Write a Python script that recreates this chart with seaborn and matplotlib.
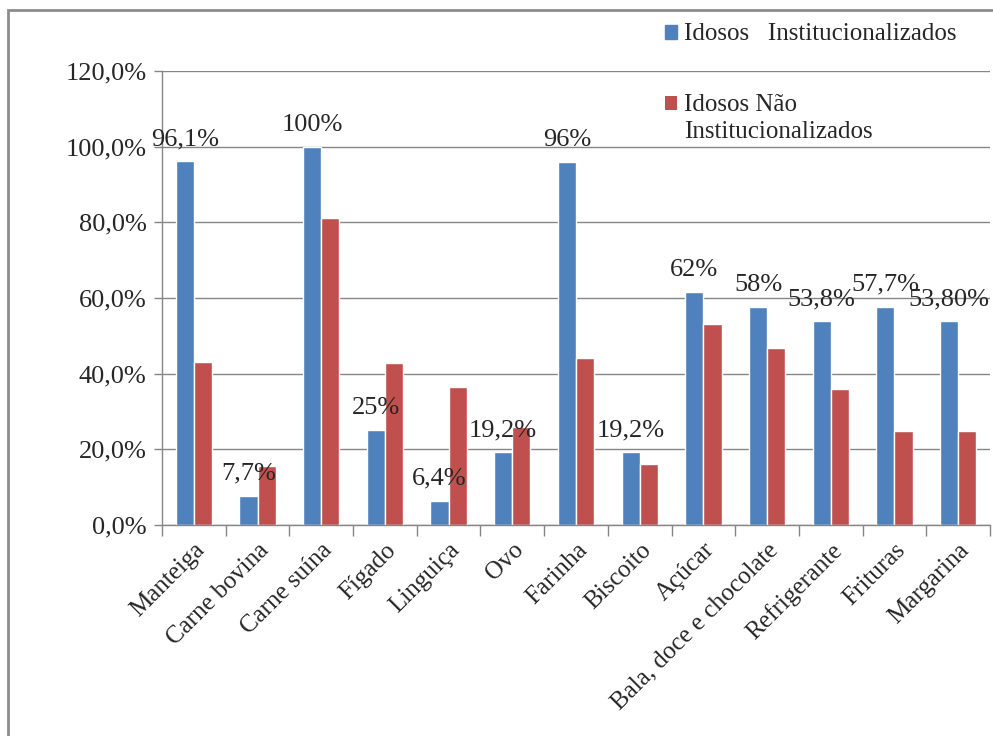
import pandas as pd
import matplotlib
matplotlib.use("Agg")
import matplotlib.pyplot as plt
from matplotlib.patches import Rectangle
from matplotlib.legend_handler import HandlerPatch
from matplotlib.ticker import FuncFormatter, FixedLocator
import seaborn as sns

sns.set_style("white")
plt.rcParams['font.family'] = ['Liberation Serif', 'DejaVu Serif']

categorias = ["Manteiga", "Carne bovina", "Carne suína", "Fígado", "Linguiça", "Ovo",
              "Farinha", "Biscoito", "Açúcar", "Bala, doce e chocolate",
              "Refrigerante", "Frituras", "Margarina"]
grupos = ["Idosos   Institucionalizados", "Idosos Não\nInstitucionalizados"]
inst = [96.1, 7.7, 100, 25, 6.4, 19.2, 96, 19.2, 61.5, 57.7, 53.8, 57.7, 53.8]
nao_inst = [43.2, 15.6, 81.2, 42.8, 36.5, 26.0, 44.1, 16.1, 53.0, 46.8, 36.0, 24.8, 24.8]
rotulos = ["96,1%", "7,7%", "100%", "25%", "6,4%", "19,2%", "96%", "19,2%",
           "62%", "58%", "53,8%", "57,7%", "53,80%"]
cores = ["#4F81BD", "#C0504D"]

df = pd.DataFrame({
    "categoria": categorias * 2,
    "valor": inst + nao_inst,
    "grupo": [grupos[0]] * len(categorias) + [grupos[1]] * len(categorias),
})


# marker of a multi-line legend entry sits beside the first line (Excel style)
class HandlerTopo(HandlerPatch):
    def __init__(self, shift):
        super().__init__()
        self.shift = shift

    def create_artists(self, legend, orig_handle, xdescent, ydescent, width, height, fontsize, trans):
        p = Rectangle((-xdescent, -ydescent + self.shift * fontsize), width, height,
                      facecolor=orig_handle.get_facecolor(), edgecolor="none", transform=trans)
        return [p]


fig = plt.figure(figsize=(9.93, 7.36), dpi=100)
ax = fig.add_axes([162 / 993, 1 - 525 / 736, (990 - 162) / 993, (525 - 71) / 736])
sns.barplot(data=df, x="categoria", y="valor", hue="grupo", palette=cores,
            width=0.57, saturation=1, ax=ax, legend=False)

ax.bar_label(ax.containers[0], labels=rotulos, padding=8, fontsize=19)

ax.set_ylim(0, 120)
ax.set_xlim(-0.5, len(categorias) - 0.5)
ax.set_yticks(range(0, 121, 20))
ax.yaxis.set_major_formatter(FuncFormatter(lambda v, p: f"{v:.1f}%".replace(".", ",")))
ax.yaxis.grid(True, color="#868686", lw=1)
ax.set_axisbelow(True)
ax.set_xlabel("")
ax.set_ylabel("")

ax.set_xticks(range(len(categorias)))
ax.set_xticklabels(categorias, rotation=45, ha="right", rotation_mode="anchor", fontsize=18)
ax.tick_params(axis="x", which="major", length=0, pad=10)
ax.xaxis.set_minor_locator(FixedLocator([i - 0.5 for i in range(len(categorias) + 1)]))
ax.tick_params(axis="x", which="minor", length=8, color="#868686", width=1, direction="out", bottom=True)
ax.tick_params(axis="y", length=6, color="#868686", width=1, direction="out", left=True, labelsize=19, pad=5)

for s in ["top", "right"]:
    ax.spines[s].set_visible(False)
for s in ["left", "bottom"]:
    ax.spines[s].set_color("#868686")
    ax.spines[s].set_linewidth(1)

handles = [Rectangle((0, 0), 1, 1, color=c) for c in cores]
leg = fig.legend(handles, grupos, loc="upper left", bbox_to_anchor=(652 / 993, 1 - 11 / 736),
                 frameon=False, fontsize=18, handlelength=0.48, handleheight=0.48,
                 handletextpad=0.3, labelspacing=1.95, borderpad=0,
                 handler_map={handles[1]: HandlerTopo(0.62)})
for t in leg.get_texts():
    t.set_linespacing(1.3)

fig.patches.append(Rectangle((8 / 993, -0.1), 1.2, 1 - 10 / 736 + 0.1, transform=fig.transFigure,
                             fill=False, edgecolor="#8c8c8c", lw=2))

fig.savefig("out.png", dpi=100)
